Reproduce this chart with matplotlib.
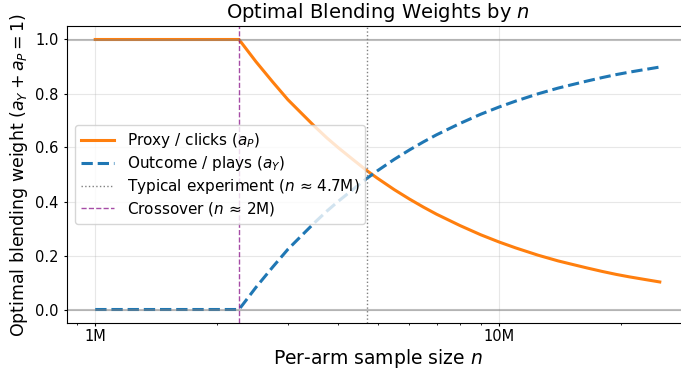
import numpy as np
import matplotlib.pyplot as plt
from matplotlib.ticker import FuncFormatter, NullFormatter

# values (n in millions)
n_millions = [1.0, 1.5, 2.0, 2.27, 2.5, 2.75, 3.0, 3.25, 3.5, 3.75, 4.0, 4.35, 4.7, 5.0, 5.5, 6.0,
              6.5, 7.0, 8.0, 9.0, 10.0, 11.0, 12.5, 14.0, 15.0, 16.5, 18.0, 19.5, 21.0, 23.0, 25.0]
proxy_w = [1.0, 1.0, 1.0, 1.0, 0.918, 0.843, 0.777, 0.725, 0.677, 0.635, 0.599, 0.555, 0.515, 0.486,
           0.444, 0.409, 0.379, 0.353, 0.311, 0.277, 0.250, 0.228, 0.201, 0.180, 0.169, 0.154,
           0.141, 0.130, 0.121, 0.111, 0.102]
outcome_w = [0.0, 0.0, 0.0, 0.0, 0.082, 0.157, 0.223, 0.275, 0.323, 0.365, 0.401, 0.445, 0.485, 0.514,
             0.556, 0.591, 0.621, 0.647, 0.689, 0.723, 0.750, 0.772, 0.799, 0.820, 0.831, 0.846,
             0.859, 0.870, 0.879, 0.889, 0.898]
typical_n = 4.7e6
crossover_n = 2.27e6

n = np.array(n_millions) * 1e6

fig = plt.figure(figsize=(6.81, 3.72), dpi=100)
# axes runs a little past the right edge, as in the reference
ax = fig.add_axes([67/681, 49/372, 621/681, 297/372])

ax.plot(n, proxy_w, color='#ff7f0e', lw=2.2, label=r'Proxy / clicks ($a_P$)')
ax.plot(n, outcome_w, color='#1f77b4', lw=2.2, ls='--', label=r'Outcome / plays ($a_Y$)')
ax.axvline(typical_n, color='gray', ls=':', lw=1, label=r'Typical experiment ($n$ ≈ 4.7M)')
ax.axvline(crossover_n, color='purple', ls='--', lw=1, alpha=0.7, label=r'Crossover ($n$ ≈ 2M)')
ax.axhline(0, color='gray', lw=1.5, alpha=0.5)
ax.axhline(1, color='gray', lw=1.5, alpha=0.5)

ax.set_xscale('log')
ax.xaxis.set_major_formatter(FuncFormatter(lambda v, p: '%dM' % round(v / 1e6)))
ax.xaxis.set_minor_formatter(NullFormatter())
ax.tick_params(labelsize=10.5, length=2.5)
ax.tick_params(axis='x', pad=2)
ax.tick_params(which='minor', length=1.5)
ax.grid(True, alpha=0.3)

ax.set_xlabel(r'Per-arm sample size $n$', fontsize=13.5, labelpad=2)
ax.set_ylabel(r'Optimal blending weight ($a_Y + a_P = 1$)', fontsize=12.5)
ax.set_title(r'Optimal Blending Weights by $n$', fontsize=14)
ax.legend(loc='center left', fontsize=11, labelspacing=0.25, handlelength=2.2)

fig.savefig('out.png', dpi=100)
